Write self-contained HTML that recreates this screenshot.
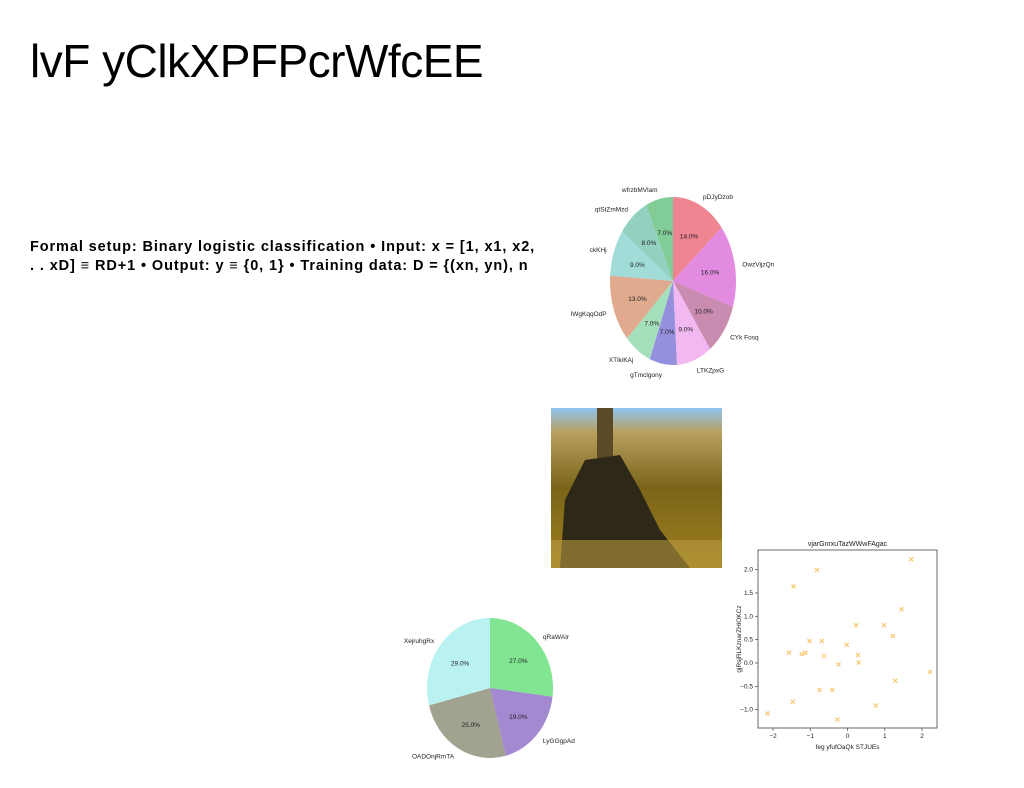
<!DOCTYPE html>
<html><head><meta charset="utf-8"><style>
body{margin:0;width:1024px;height:788px;background:#fff;position:relative;overflow:hidden;font-family:"Liberation Sans",sans-serif}
.title{position:absolute;left:30px;top:34px;font-size:46px;color:#000;font-weight:normal;letter-spacing:-0.5px}
.body{position:absolute;left:30px;top:238px;font-size:14.5px;font-weight:900;line-height:19px;color:#000;white-space:nowrap;letter-spacing:0.9px}
svg text{font-family:"Liberation Sans",sans-serif}
</style></head><body>
<div class="title">lvF yClkXPFPcrWfcEE</div>
<div class="body">Formal setup: Binary logistic classification • Input: x = [1, x1, x2,<br>. . xD] ≡ RD+1 • Output: y ≡ {0, 1} • Training data: D = {(xn, yn), n</div>
<svg width="1024" height="788" style="position:absolute;left:0;top:0" id="s">
<defs><linearGradient id="sky" x1="0" y1="0" x2="0" y2="1">
<stop offset="0" stop-color="#8ec4ee"/><stop offset="0.15" stop-color="#b8a060"/><stop offset="0.5" stop-color="#7a6418"/><stop offset="1" stop-color="#a08020"/></linearGradient></defs>
<g>
<rect x="551" y="408" width="171" height="160" fill="url(#sky)"/>
<rect x="597" y="408" width="16" height="50" fill="#5a4a28"/>
<path d="M560 568 L565 500 L585 460 L620 455 L640 490 L660 530 L690 568 Z" fill="#2e2818"/>
<rect x="551" y="540" width="171" height="28" fill="#b89a40" opacity="0.6"/>
</g>
<g id="pie1"></g>
<g id="pie2"></g>
<g id="sc"></g>
</svg>
<script>
const p1Labels=["pDJyDzob","OwzVijzQn","CYk Fosq","LTKZpxG","gTmclgony","XTlkiKAj","lWgKqqOdP","ckKHj","qtStZmMzd","wfrzbMVlam"];
const p1Values=[14,16,10,9,7,7,13,9,8,7];
const p1Colors=["#f08592","#e38be0","#c98bb0","#f2b8f2","#9590de","#a3e0bb","#e0aa8f","#a2dcd8","#92d0c0","#82cc98"];
const p2Labels=["qRaWAIr","LyGGgpAd","OADOnjRmTA","XejruhgRx"];
const p2Values=[27,19,25,29];
const p2Colors=["#82e592","#a389d0","#a2a290","#b9f2f0"];
const scX=[-2.15,-1.47,-1.45,-1.57,-1.23,-1.13,-1.02,-0.82,-0.75,-0.69,-0.63,-0.41,-0.27,-0.24,-0.02,0.23,0.28,0.30,0.76,0.98,1.22,1.28,1.45,1.71,2.22];
const scY=[-1.08,-0.83,1.64,0.22,0.19,0.22,0.47,1.99,-0.58,0.47,0.15,-0.58,-1.21,-0.03,0.39,0.81,0.17,0.01,-0.91,0.81,0.58,-0.38,1.15,2.22,-0.19];
const xTicks=[-2,-1,0,1,2];
const yTicks=[-1.0,-0.5,0.0,0.5,1.0,1.5,2.0];
const NS="http://www.w3.org/2000/svg";
function mk(t,a,p){const e=document.createElementNS(NS,t);for(const k in a)e.setAttribute(k,a[k]);p.appendChild(e);return e;}
function pie(g,labels,vals,cols,cx,cy,rx,ry,fs){
 const tot=vals.reduce((a,b)=>a+b,0);let a=-Math.PI/2;
 vals.forEach((v,i)=>{const da=v/tot*2*Math.PI,a2=a+da;
  const x1=cx+rx*Math.cos(a),y1=cy+ry*Math.sin(a),x2=cx+rx*Math.cos(a2),y2=cy+ry*Math.sin(a2);
  const p=mk('path',{d:`M${cx},${cy}L${x1},${y1}A${rx},${ry} 0 ${da>Math.PI?1:0} 1 ${x2},${y2}Z`,fill:cols[i]},g);
  
  
  const m=(a+a2)/2;
  const t=mk('text',{x:cx+rx*0.6*Math.cos(m),y:cy+ry*0.6*Math.sin(m)+3,'font-size':fs,'text-anchor':'middle',fill:'#222'},g);t.textContent=v.toFixed(1)+'%';
  
  
  const lx=cx+rx*1.12*Math.cos(m),ly=cy+ry*1.12*Math.sin(m)+3;
  const l=mk('text',{x:lx,y:ly,'font-size':fs,'text-anchor':Math.cos(m)>0.05?'start':(Math.cos(m)<-0.05?'end':'middle'),fill:'#222'},g);l.textContent=labels[i];
  
  
  a=a2;});
}
pie(document.getElementById('pie1'),p1Labels,p1Values,p1Colors,673,281,63,84,6.5);
pie(document.getElementById('pie2'),p2Labels,p2Values,p2Colors,490,688,63,70,6.5);
const g=document.getElementById('sc');
const L=758,R=937,T=550,B=728;
const xs=v=>847.5+v*37.25, ys=v=>663-v*46.7;
mk('rect',{x:L,y:T,width:R-L,height:B-T,fill:'none',stroke:'#444','stroke-width':0.8},g);
const tt=mk('text',{x:(L+R)/2,y:T-4,'font-size':7,'text-anchor':'middle',fill:'#222'},g);tt.textContent='vjarGnrxuTazWWwFAgac';


xTicks.forEach(v=>{mk('line',{x1:xs(v),x2:xs(v),y1:B,y2:B+3,stroke:'#444','stroke-width':0.7},g);
 const t=mk('text',{x:xs(v),y:B+10,'font-size':6.5,'text-anchor':'middle',fill:'#222'},g);t.textContent=v<0?'−'+(-v):v;
 
 });
yTicks.forEach(v=>{mk('line',{x1:L-3,x2:L,y1:ys(v),y2:ys(v),stroke:'#444','stroke-width':0.7},g);
 const t=mk('text',{x:L-5,y:ys(v)+2,'font-size':6.5,'text-anchor':'end',fill:'#222'},g);t.textContent=(v<0?'−':'')+Math.abs(v).toFixed(1);
 
 });
const xl=mk('text',{x:(L+R)/2,y:B+21,'font-size':6.5,'text-anchor':'middle',fill:'#222'},g);xl.textContent='feg yfufOaQk STJUEs';


const yl=mk('text',{x:0,y:0,'font-size':6.5,'text-anchor':'middle',fill:'#222',transform:`translate(741,${(T+B)/2}) rotate(-90)`},g);yl.textContent='gjRsjRLKznarZHiOKCz';


scX.forEach((v,i)=>{const x=xs(v),y=ys(scY[i]);
 const m=mk('path',{d:`M${x-2},${y-2}L${x+2},${y+2}M${x-2},${y+2}L${x+2},${y-2}`,stroke:'#f8c870','stroke-width':1.2},g);
 
 });
</script>
</body></html>
